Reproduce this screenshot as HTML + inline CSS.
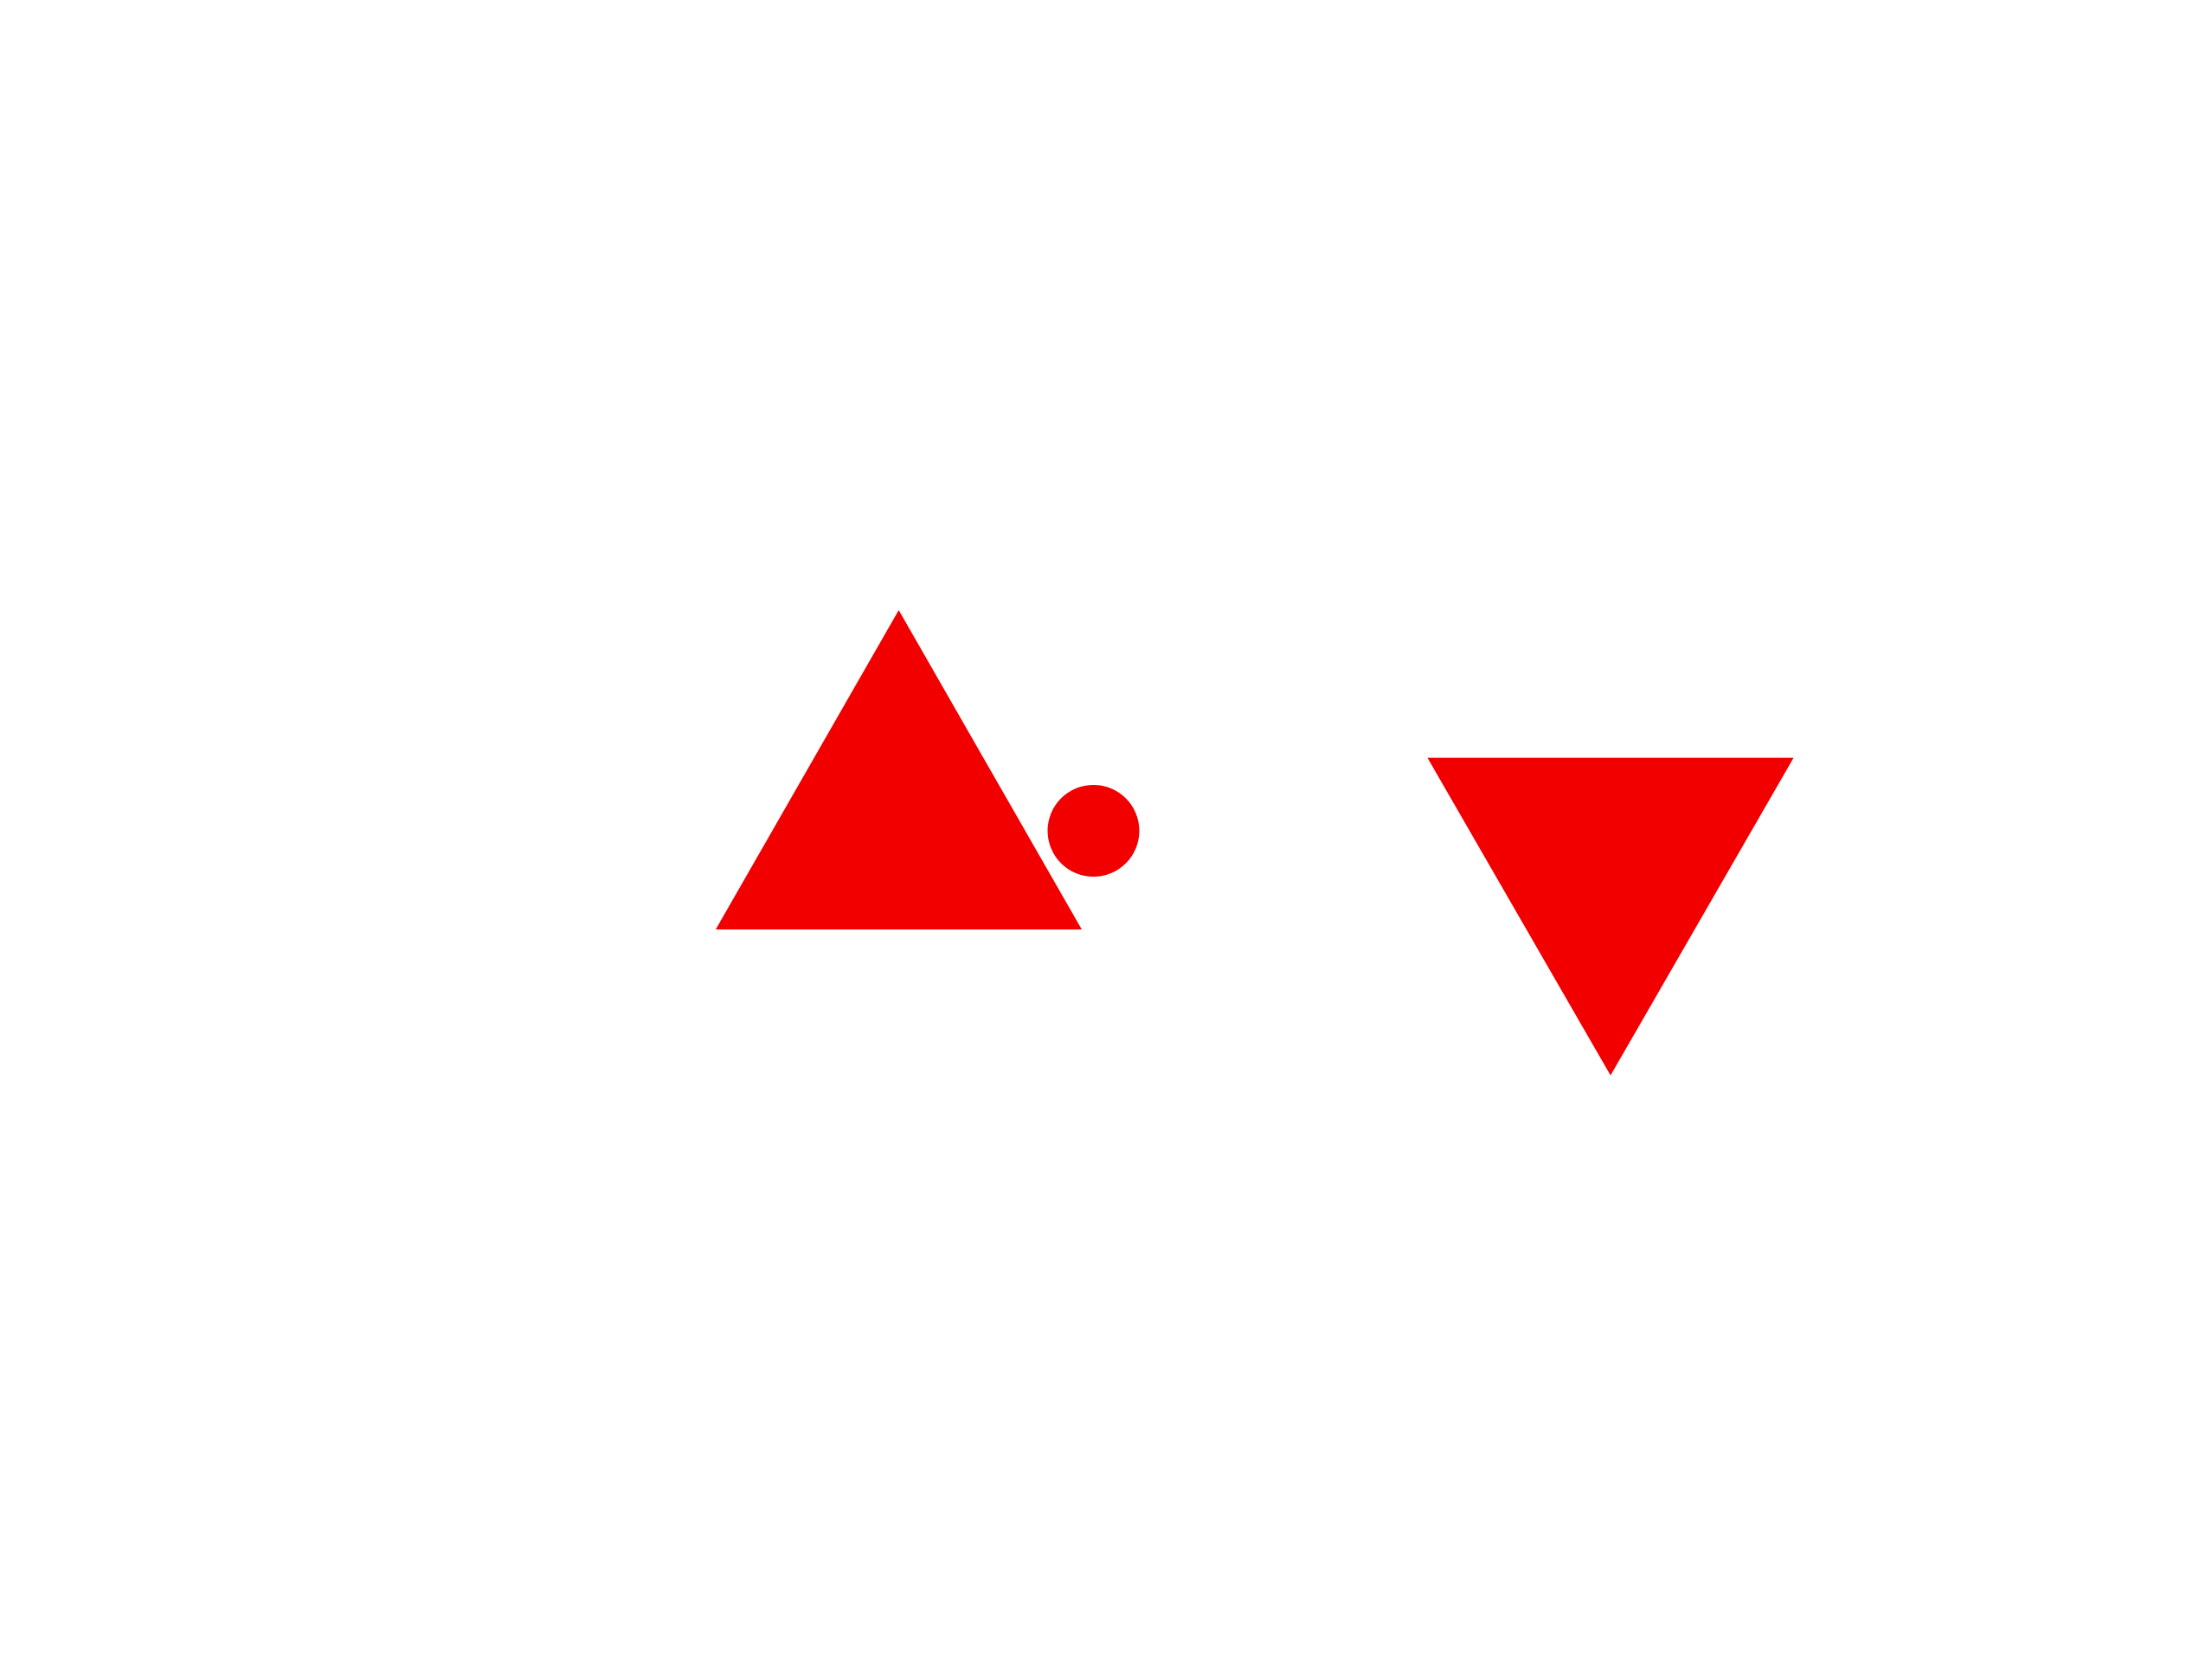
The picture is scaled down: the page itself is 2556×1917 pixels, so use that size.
<!DOCTYPE html>
<html>
<head>
<meta charset="utf-8">
<style>
  html,body{margin:0;padding:0;background:#fff;}
  body{width:2556px;height:1917px;overflow:hidden;font-family:"Liberation Sans",sans-serif;}
  svg{display:block;}
</style>
</head>
<body>
<svg id="chart" width="2556" height="1917" viewBox="0 0 2556 1917" xmlns="http://www.w3.org/2000/svg">
  <rect x="0" y="0" width="2556" height="1917" fill="#ffffff"/>
  <g id="marks"></g>
</svg>
<script>
// Data (centre positions in data units; the axes are hidden)
const categories = ["up-triangle", "circle", "down-triangle"];
const xValues = [1038.5, 1263.5, 1861];
const yValues = [951, 960, 998];
const markerTypes = ["triangle-up", "circle", "triangle-down"];
const markerSizes = [423, 106, 423];
const markerHeights = [369, 106, 367];

// Axis functions (identity mapping over the hidden axis range)
const xDomain = [0, 2556], xRange = [0, 2556];
const yDomain = [0, 1917], yRange = [0, 1917];
function xScale(v){ return xRange[0] + (v - xDomain[0]) / (xDomain[1] - xDomain[0]) * (xRange[1] - xRange[0]); }
function yScale(v){ return yRange[0] + (v - yDomain[0]) / (yDomain[1] - yDomain[0]) * (yRange[1] - yRange[0]); }

const NS = "http://www.w3.org/2000/svg";
const g = document.getElementById("marks");

for (let i = 0; i < categories.length; i++) {
  const cx = xScale(xValues[i]);
  const cy = yScale(yValues[i]);
  const s = markerSizes[i];
  let el;
  if (markerTypes[i] === "circle") {
    el = document.createElementNS(NS, "circle");
    el.setAttribute("cx", cx);
    el.setAttribute("cy", cy);
    el.setAttribute("r", s / 2);
  } else {
    const h = markerHeights[i];
    el = document.createElementNS(NS, "polygon");
    let pts;
    if (markerTypes[i] === "triangle-up") {
      pts = [[cx, cy - h * 2 / 3], [cx + s / 2, cy + h / 3], [cx - s / 2, cy + h / 3]];
    } else {
      pts = [[cx - s / 2, cy - h / 3], [cx + s / 2, cy - h / 3], [cx, cy + h * 2 / 3]];
    }
    el.setAttribute("points", pts.map(p => p.join(",")).join(" "));
  }
  el.setAttribute("fill", "#f20000");
  
  
  g.appendChild(el);
}
</script>
</body>
</html>
